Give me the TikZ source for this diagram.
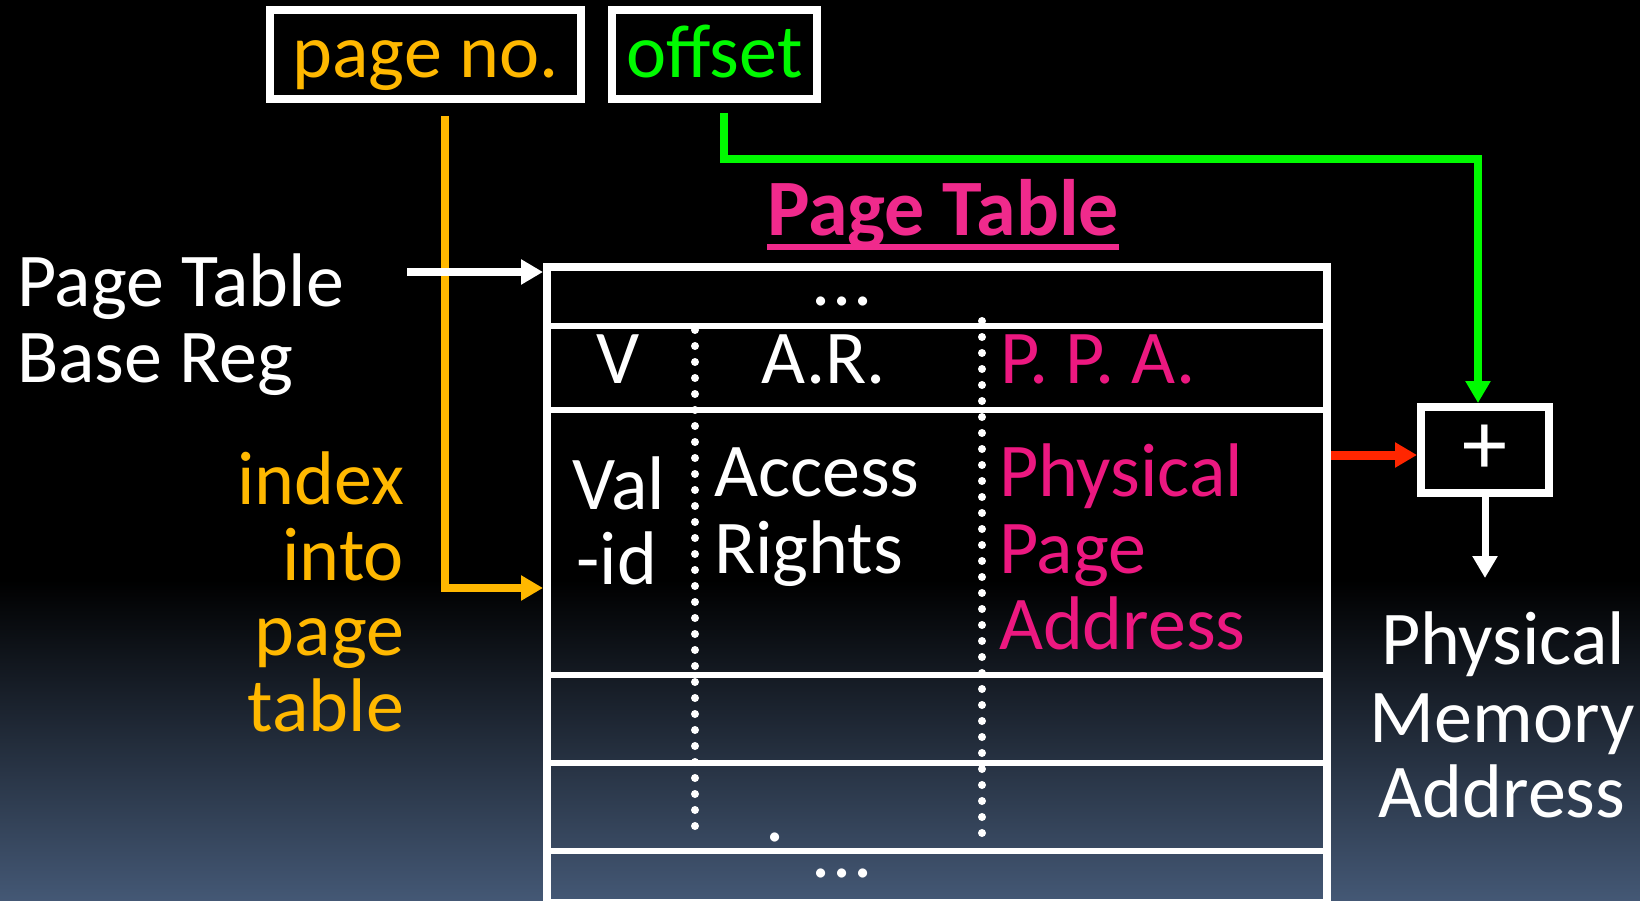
\documentclass[tikz,border=0pt]{standalone}
\usepackage{fontspec}
\setmainfont{Carlito}
\usetikzlibrary{arrows.meta,calc}
\definecolor{orng}{RGB}{255,184,0}
\definecolor{grn}{RGB}{0,250,0}
\definecolor{pnk}{RGB}{236,24,128}
\definecolor{ttlpnk}{RGB}{240,42,140}
\definecolor{redarr}{RGB}{255,38,0}
\definecolor{bgblue}{RGB}{68,88,117}
\begin{document}
\begin{tikzpicture}[x=1pt,y=-1pt,
  txt/.style={inner sep=0pt,outer sep=0pt,font=\fontsize{76}{76}\selectfont,text=white},
  boxnode/.style={draw=white,fill=black,line width=8pt,inner sep=0pt,font=\fontsize{76}{76}\selectfont,text height=50pt,text depth=3pt},
  tipA/.style={-{Triangle[length=22pt,width=24pt]}},
  oline/.style={draw=orng,line width=8pt,tipA},
  gline/.style={draw=grn,line width=8pt,tipA},
  wline/.style={draw=white,line width=8pt,tipA},
  rline/.style={draw=redarr,line width=9pt,tipA},
  rowline/.style={draw=white,line width=6pt},
  dotline/.style={draw=white,line width=8pt,line cap=round,dash pattern=on 0pt off 16pt},
]
\useasboundingbox (0,0) rectangle (1640,901);
\fill[black] (0,0) rectangle (1640,901);
\shade[top color=black,bottom color=bgblue] (0,580) rectangle (1640,901);

% table
\node[draw=white,line width=8pt,minimum width=780pt,minimum height=636pt,inner sep=0pt] (tbl) at (937,585) {};
\foreach \yy in {326,410,675,763,851} \draw[rowline] (547,\yy) -- (1327,\yy);
\draw[dotline] (695,330) -- (695,836);
\draw[dotline] (982,321) -- (982,844);

% address boxes
\node[boxnode,text=orng,minimum width=311pt,minimum height=89pt] (pn) at (425.5,54.5) {page no.};
\node[boxnode,text=grn,minimum width=205pt,minimum height=89pt] (off) at (714.5,54.5) {offset};

% title
\node[inner sep=0pt,font=\bfseries\fontsize{80}{80}\selectfont,text=ttlpnk,anchor=base] (ttl) at (943,236) {Page Table};
\draw[ttlpnk,line width=6pt] ($(ttl.base west)+(0,11)$) -- ($(ttl.base east)+(0,11)$);

% left labels
\node[txt,anchor=base west] (pt1) at (17,306) {Page Table};
\node[txt,anchor=base west] (pt2) at (17,382) {Base Reg};
\node[txt,text=orng,anchor=base east] (ix1) at (404,504) {index};
\node[txt,text=orng,anchor=base east] (ix2) at (404,580) {into};
\node[txt,text=orng,anchor=base east] (ix3) at (404,655) {page};
\node[txt,text=orng,anchor=base east] (ix4) at (404,731) {table};

% table contents
\node[txt] (dt) at (842,301) {.\kern2pt.\kern2pt.};
\node[txt] (db) at (842,873) {.\kern2pt.\kern2pt.};
\node[txt] (sd) at (775,837) {.};
\node[txt,anchor=base] (hv) at (618,383) {V};
\node[txt,anchor=base] (har) at (824,383) {A.R.};
\node[txt,text=pnk,anchor=base west] (hppa) at (1000,383) {P. P. A.};
\node[txt,anchor=base] (v1) at (619,509) {Val};
\node[txt,anchor=base] (v2) at (617,584) {-id};
\node[txt,anchor=base west] (a1) at (714,496) {Access};
\node[txt,anchor=base west] (a2) at (714,573) {Rights};
\node[txt,text=pnk,anchor=base west] (p1) at (999,496) {Physical};
\node[txt,text=pnk,anchor=base west] (p2) at (999,573) {Page};
\node[txt,text=pnk,anchor=base west] (p3) at (999,649) {Address};

% adder
\node[draw=white,fill=black,line width=8pt,minimum width=128pt,minimum height=86pt,inner sep=0pt,font=\fontsize{90}{90}\selectfont,text=white] (plus) at (1485,450) {+};

% right labels
\node[txt,anchor=base] (m1) at (1503,664) {Physical};
\node[txt,anchor=base] (m2) at (1502,742) {Memory};
\node[txt,anchor=base] (m3) at (1502,817) {Address};

% connectors
\coordinate (o0) at (445,116);
\coordinate (olev) at (0,588);
\draw[oline] (o0) |- (tbl.west |- olev);
\coordinate (w0) at (407,272);
\draw[wline] (w0) -- (tbl.west |- w0);
\coordinate (g0) at (724,113);
\coordinate (g1) at (1478,159);
\draw[gline] (g0) |- (g1) -- (g1 |- plus.north);
\coordinate (r0) at (0,455);
\draw[rline] (tbl.east |- r0) -- (plus.west |- r0);
\coordinate (dend) at (1485,578);
\draw[wline,line width=7pt] (plus.south) -- (dend);
\end{tikzpicture}
\end{document}
